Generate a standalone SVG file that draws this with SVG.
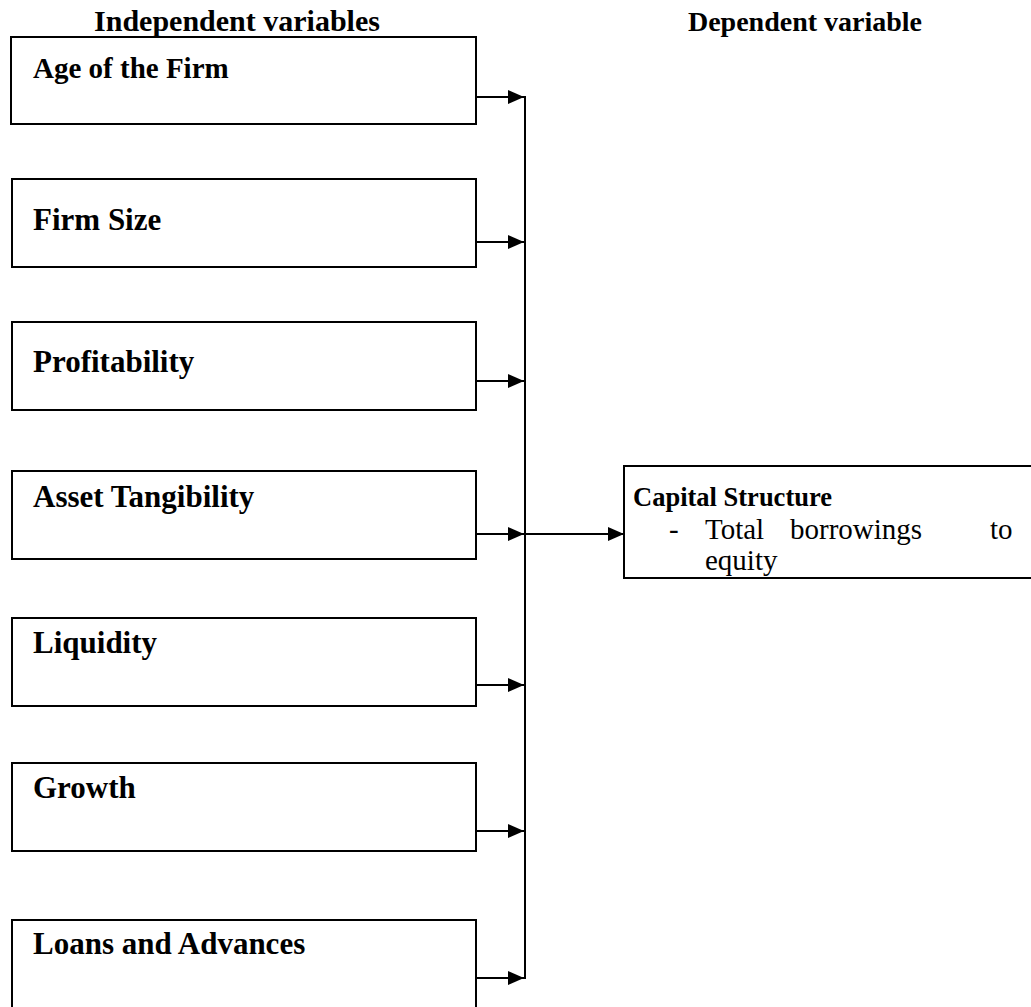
<svg xmlns="http://www.w3.org/2000/svg" width="1031" height="1007" viewBox="0 0 1031 1007">
  <style>
    .box { fill: #fff; stroke: #000; stroke-width: 2; }
    .lbl { font-family: "Liberation Serif", "Times New Roman", serif; font-weight: bold; font-size: 31px; fill: #000; }
    .hdr { font-family: "Liberation Serif", "Times New Roman", serif; font-weight: bold; font-size: 30px; fill: #000; }
    .txt { font-family: "Liberation Serif", "Times New Roman", serif; font-size: 29px; fill: #000; }
    .wire { fill: none; stroke: #000; stroke-width: 2; }
  </style>
  <defs>
    <marker id="arrow" viewBox="0 0 16 14" refX="16" refY="7" markerWidth="16" markerHeight="14" markerUnits="userSpaceOnUse" orient="auto">
      <path d="M0,0 L16,7 L0,14 Z" fill="#000"/>
    </marker>
  </defs>

  <rect width="1031" height="1007" fill="#fff"/>

  <!-- column headings -->
  <text class="hdr" x="237" y="31" text-anchor="middle">Independent variables</text>
  <text class="hdr" x="805" y="31" text-anchor="middle" style="font-size:28px">Dependent variable</text>

  <!-- independent variable boxes -->
  <g id="age">
    <rect class="box" x="11" y="37" width="465" height="87"/>
    <text class="lbl" x="33" y="78" style="font-size:29px">Age of the Firm</text>
  </g>
  <g id="size">
    <rect class="box" x="12" y="179" width="464" height="88"/>
    <text class="lbl" x="33" y="230">Firm Size</text>
  </g>
  <g id="profitability">
    <rect class="box" x="12" y="322" width="464" height="88"/>
    <text class="lbl" x="33" y="372">Profitability</text>
  </g>
  <g id="tangibility">
    <rect class="box" x="12" y="471" width="464" height="88"/>
    <text class="lbl" x="33" y="507">Asset Tangibility</text>
  </g>
  <g id="liquidity">
    <rect class="box" x="12" y="618" width="464" height="88"/>
    <text class="lbl" x="33" y="653">Liquidity</text>
  </g>
  <g id="growth">
    <rect class="box" x="12" y="763" width="464" height="88"/>
    <text class="lbl" x="33" y="798">Growth</text>
  </g>
  <g id="loans">
    <rect class="box" x="12" y="920" width="464" height="100"/>
    <text class="lbl" x="33" y="954">Loans and Advances</text>
  </g>

  <!-- dependent variable box -->
  <g id="capital">
    <rect class="box" x="624" y="466" width="420" height="112"/>
    <text class="lbl" x="633" y="506" style="font-size:26.5px">Capital Structure</text>
    <text class="txt" x="669" y="539">-</text>
    <text class="txt" x="705" y="539">Total</text>
    <text class="txt" x="790" y="539">borrowings</text>
    <text class="txt" x="990" y="539">to</text>
    <text class="txt" x="705" y="570">equity</text>
  </g>

  <!-- connectors -->
  <g id="connectors">
    <line class="wire" x1="525" y1="96" x2="525" y2="979"/>
    <line class="wire" x1="476" y1="97" x2="524" y2="97" marker-end="url(#arrow)"/>
    <line class="wire" x1="476" y1="242" x2="524" y2="242" marker-end="url(#arrow)"/>
    <line class="wire" x1="476" y1="381" x2="524" y2="381" marker-end="url(#arrow)"/>
    <line class="wire" x1="476" y1="534" x2="524" y2="534" marker-end="url(#arrow)"/>
    <line class="wire" x1="476" y1="685" x2="524" y2="685" marker-end="url(#arrow)"/>
    <line class="wire" x1="476" y1="831" x2="524" y2="831" marker-end="url(#arrow)"/>
    <line class="wire" x1="476" y1="978" x2="524" y2="978" marker-end="url(#arrow)"/>
    <line class="wire" x1="525" y1="534" x2="624" y2="534" marker-end="url(#arrow)"/>
  </g>
</svg>
